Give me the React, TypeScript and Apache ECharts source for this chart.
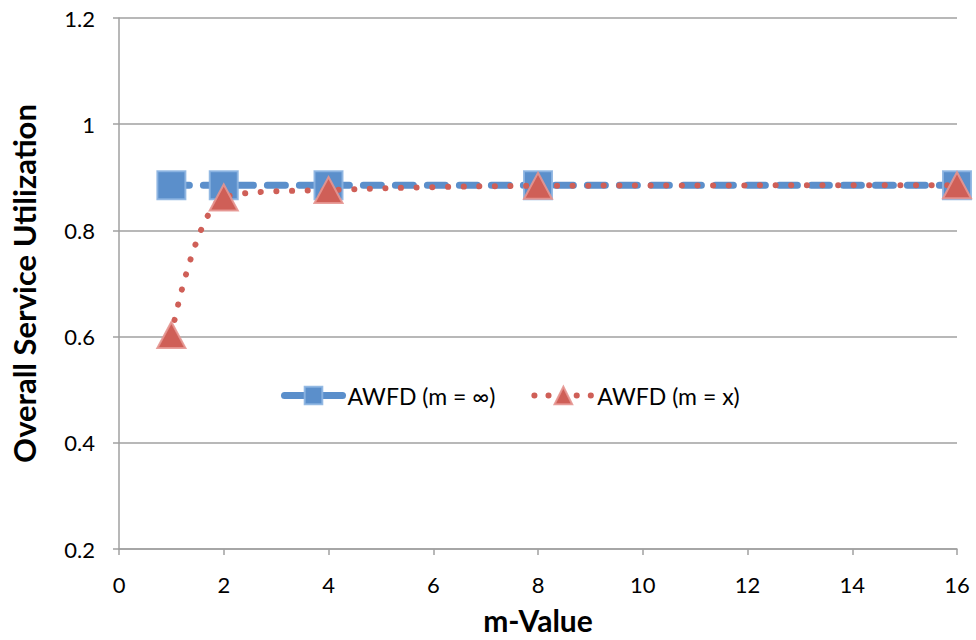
import React, { useEffect, useRef } from "react";
import * as echarts from "echarts";

const mValues = [1, 2, 4, 8, 16];
const awfdInf = [0.885, 0.885, 0.885, 0.885, 0.885];
const awfdX = [0.603, 0.862, 0.876, 0.884, 0.885];
const seriesNames = ["AWFD (m = ∞)", "AWFD (m = x)"];
const xTitle = "m-Value";
const yTitle = "Overall Service Utilization";

const BLUE = "#5B8FCB";
const RED = "#CF5F57";
const FONT = "Lato, 'Open Sans', sans-serif";

export default function App() {
  const ref = useRef<HTMLDivElement>(null);
  useEffect(() => {
    if (!ref.current) return;
    const chart = echarts.init(ref.current, undefined, { renderer: "svg" });
    chart.setOption({
      animation: false,
      backgroundColor: "#ffffff",
      grid: { left: 112, right: 19, top: 18, bottom: 84, containLabel: false },
      legend: {
        left: 276,
        top: 379,
        itemWidth: 58,
        itemHeight: 22,
        itemGap: 36,
        textStyle: { fontFamily: FONT, fontSize: 23, color: "#000" },
        data: [
          {
            name: seriesNames[0],
            lineStyle: { width: 7, type: "solid", cap: "round" },
          },
          {
            name: seriesNames[1],
            lineStyle: { width: 6, type: [0.1, 14], cap: "round" },
          },
        ],
      },
      xAxis: {
        type: "value",
        min: 0,
        max: 16,
        interval: 2,
        name: xTitle,
        nameLocation: "middle",
        nameGap: 56,
        nameTextStyle: { fontFamily: FONT, fontSize: 30, fontWeight: "bold", color: "#000" },
        axisLine: { show: true, lineStyle: { color: "#A0A0A0", width: 1.5 } },
        axisTick: { show: true, length: 6, lineStyle: { color: "#A0A0A0", width: 1.5 } },
        axisLabel: { fontFamily: FONT, fontSize: 22, color: "#000", margin: 24 },
        splitLine: { show: false },
      },
      yAxis: {
        type: "value",
        min: 0.2,
        max: 1.2,
        interval: 0.2,
        name: yTitle,
        nameLocation: "middle",
        nameGap: 80,
        nameTextStyle: { fontFamily: FONT, fontSize: 31, fontWeight: "bold", color: "#000" },
        axisLine: { show: true, lineStyle: { color: "#A0A0A0", width: 1.5 } },
        axisTick: { show: true, length: 6, lineStyle: { color: "#A0A0A0", width: 1.5 } },
        axisLabel: {
          fontFamily: FONT,
          fontSize: 22,
          color: "#000",
          margin: 24,
          formatter: (v: number) => String(Math.round(v * 10) / 10),
        },
        splitLine: { show: true, lineStyle: { color: "#A0A0A0", width: 1.5 } },
      },
      series: [
        {
          name: seriesNames[0],
          type: "line",
          data: mValues.map((m, i) => [m, awfdInf[i]]),
          symbol: "rect",
          symbolSize: 28,
          lineStyle: { color: BLUE, width: 7, type: [18, 14], cap: "round" },
          itemStyle: { color: BLUE, borderColor: "rgba(140,180,225,0.9)", borderWidth: 2 },
          z: 2,
        },
        {
          name: seriesNames[1],
          type: "line",
          smooth: 0.3,
          data: mValues.map((m, i) => [m, awfdX[i]]),
          symbol: "triangle",
          symbolSize: [28, 26],
          lineStyle: { color: RED, width: 6, type: [0.1, 15.5], cap: "round" },
          itemStyle: { color: RED, borderColor: "rgba(230,150,145,0.9)", borderWidth: 2 },
          z: 3,
        },
      ],
    });
    return () => chart.dispose();
  }, []);
  return (
    <div
      ref={ref}
      style={{ position: "absolute", left: 0, top: 0, width: 976, height: 640 }}
    />
  );
}
